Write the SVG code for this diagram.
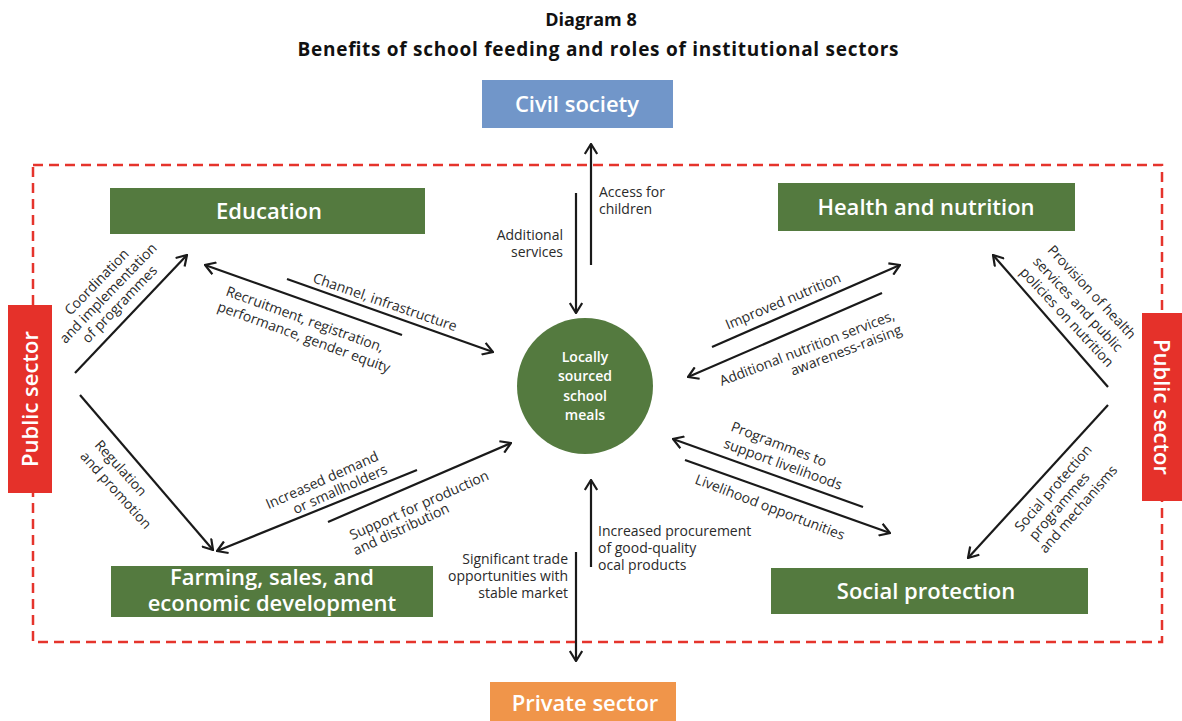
<svg xmlns="http://www.w3.org/2000/svg" width="1182" height="721" viewBox="0 0 1182 721">
<style>
.title{font-family:"Open Sans","Liberation Sans",sans-serif;font-weight:700;fill:#111;text-anchor:middle}
.green{fill:#547a3f}
.btxt{font-family:"Open Sans","Liberation Sans",sans-serif;font-weight:600;font-size:22px;fill:#fff;text-anchor:middle}
.ctxt{font-family:"Open Sans","Liberation Sans",sans-serif;font-weight:600;font-size:14px;fill:#fff;text-anchor:middle}
.lbl{font-family:"Open Sans","Liberation Sans",sans-serif;font-size:14px;fill:#2a2a2a;text-anchor:middle}
.lbls{font-family:"Open Sans","Liberation Sans",sans-serif;font-size:14px;fill:#2a2a2a;text-anchor:start}
.lble{font-family:"Open Sans","Liberation Sans",sans-serif;font-size:14px;fill:#2a2a2a;text-anchor:end}
.ln{stroke:#1a1a1a;stroke-width:2.2;fill:none}
.arr{marker-end:url(#ah)}
</style>
<defs>
<marker id="ah" viewBox="0 0 12 14" refX="11" refY="7" markerWidth="12" markerHeight="14" markerUnits="userSpaceOnUse" orient="auto">
<path d="M1,0.8 L11,7 L1,13.2" fill="none" stroke="#1a1a1a" stroke-width="2.2"/>
</marker>
</defs>
<rect width="1182" height="721" fill="#fff"/>
<text class="title" x="591" y="26" font-size="18">Diagram 8</text>
<text class="title" x="598" y="56" font-size="19" textLength="601" lengthAdjust="spacing">Benefits of school feeding and roles of institutional sectors</text>

<rect x="33" y="165" width="1129" height="477" fill="none" stroke="#e5342c" stroke-width="2.5" stroke-dasharray="10,6"/>

<g id="civil-society"><rect x="482" y="80" width="191" height="48" fill="#7196c9"/><text class="btxt" x="577" y="112">Civil society</text></g>
<g id="private-sector"><rect x="490" y="682" width="186" height="39" fill="#f0954a"/><text class="btxt" x="585" y="711">Private sector</text></g>
<g id="public-sector-left"><rect x="8" y="305" width="44" height="188" fill="#e5312a"/><text class="btxt" transform="translate(38,399) rotate(-90)">Public sector</text></g>
<g id="public-sector-right"><rect x="1142" y="313" width="40" height="188" fill="#e5312a"/><text class="btxt" transform="translate(1154,407) rotate(90)">Public sector</text></g>
<g id="education"><rect class="green" x="110" y="188" width="315" height="46"/><text class="btxt" x="269" y="219">Education</text></g>
<g id="health-nutrition"><rect class="green" x="778" y="183" width="297" height="48"/><text class="btxt" x="926" y="215">Health and nutrition</text></g>
<g id="farming"><rect class="green" x="111" y="566" width="322" height="51"/><text class="btxt" font-size="20.5"><tspan x="272" y="585">Farming, sales, and</tspan><tspan x="272" y="611">economic development</tspan></text></g>
<g id="social-protection"><rect class="green" x="771" y="568" width="317" height="46"/><text class="btxt" x="926" y="599">Social protection</text></g>
<g id="meals"><circle cx="585" cy="386" r="68" fill="#547a3f"/>
<text class="ctxt" x="585" y="362">Locally</text><text class="ctxt" x="585" y="381">sourced</text><text class="ctxt" x="585" y="401">school</text><text class="ctxt" x="585" y="420">meals</text></g>

<g id="connectors">
<line class="ln arr" x1="591" y1="265" x2="591" y2="144"/>
<line class="ln arr" x1="576" y1="193" x2="576" y2="313"/>
<line class="ln arr" x1="591" y1="567" x2="591" y2="480"/>
<line class="ln arr" x1="576" y1="552" x2="576" y2="661"/>
<line class="ln arr" x1="75" y1="373" x2="187" y2="255"/>
<line class="ln arr" x1="80" y1="395" x2="213" y2="550"/>
<line class="ln arr" x1="402" y1="335" x2="205" y2="265"/>
<line class="ln arr" x1="287" y1="279" x2="493" y2="352"/>
<line class="ln arr" x1="417" y1="470" x2="217" y2="551"/>
<line class="ln arr" x1="328" y1="522" x2="511" y2="443"/>
<line class="ln arr" x1="712" y1="347" x2="900" y2="265"/>
<line class="ln arr" x1="882" y1="293" x2="688" y2="377"/>
<line class="ln arr" x1="863" y1="507" x2="673" y2="439"/>
<line class="ln arr" x1="685" y1="460" x2="890" y2="533"/>
<line class="ln arr" x1="1108" y1="387" x2="993" y2="255"/>
<line class="ln arr" x1="1108" y1="405" x2="968" y2="558"/>
</g>

<g id="labels">
<g transform="translate(108,293) rotate(-46)"><text class="lbl" x="0" y="-11">Coordination</text><text class="lbl" x="0" y="5">and implementation</text><text class="lbl" x="0" y="21">of programmes</text></g>
<text class="lbl" transform="translate(121,468) rotate(48)" y="5">Regulation</text>
<text class="lbl" transform="translate(116,490) rotate(48)" y="5">and promotion</text>
<text class="lbl" transform="translate(385,302) rotate(19)" y="5">Channel, infrastructure</text>
<text class="lbl" transform="translate(305,319) rotate(20)" y="5">Recruitment, registration,</text>
<text class="lbl" transform="translate(304,337) rotate(20)" y="5">performance, gender equity</text>
<text class="lbl" transform="translate(322,480) rotate(-24)" y="5">Increased demand</text>
<text class="lbl" transform="translate(340,489) rotate(-24)" y="5">or smallholders</text>
<text class="lbl" transform="translate(419,505) rotate(-24)" y="5">Support for production</text>
<text class="lbl" transform="translate(401,529) rotate(-25)" y="5">and distribution</text>
<text class="lbls" x="599" y="197">Access for</text>
<text class="lbls" x="599" y="214">children</text>
<text class="lble" x="563" y="240">Additional</text>
<text class="lble" x="563" y="257">services</text>
<text class="lbls" x="598" y="536">Increased procurement</text>
<text class="lbls" x="598" y="553">of good-quality</text>
<text class="lbls" x="598" y="570">ocal products</text>
<text class="lble" x="568" y="564">Significant trade</text>
<text class="lble" x="568" y="581">opportunities with</text>
<text class="lble" x="568" y="598">stable market</text>
<text class="lbl" transform="translate(783,301) rotate(-23)" y="5">Improved nutrition</text>
<text class="lbl" transform="translate(807,348) rotate(-21)" y="5">Additional nutrition services,</text>
<text class="lbl" transform="translate(846,350) rotate(-21)" y="5">awareness-raising</text>
<text class="lbl" transform="translate(779,444) rotate(21)" y="5">Programmes to</text>
<text class="lbl" transform="translate(783,464) rotate(20)" y="5">support livelihoods</text>
<text class="lbl" transform="translate(770,507) rotate(21)" y="5">Livelihood opportunities</text>
<text class="lbl" transform="translate(1092,292) rotate(47)" y="5">Provision of health</text>
<text class="lbl" transform="translate(1078,304) rotate(47)" y="5">services and public</text>
<text class="lbl" transform="translate(1067,317) rotate(47)" y="5">policies on nutrition</text>
<text class="lbl" transform="translate(1053,488) rotate(-49)" y="5">Social protection</text>
<text class="lbl" transform="translate(1059,506) rotate(-49)" y="5">programmes</text>
<text class="lbl" transform="translate(1078,509) rotate(-49)" y="5">and mechanisms</text>
</g>
</svg>
